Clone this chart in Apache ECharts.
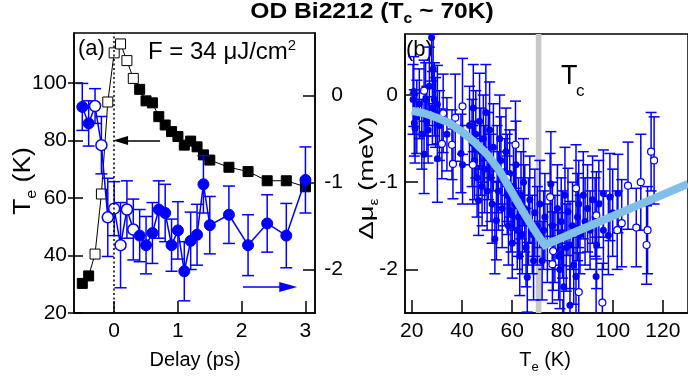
<!DOCTYPE html>
<html><head><meta charset="utf-8">
<script src="https://cdn.jsdelivr.net/npm/echarts@6/dist/echarts.min.js"></script>
<style>html,body{margin:0;padding:0;background:#fff}#c{width:688px;height:385px}</style>
</head><body><div id="c"></div>
<script>
const FONT = 'Liberation Sans, Arial, Helvetica, sans-serif';

// ---------- Panel (a) data ----------
const delays   = [-0.5,-0.4,-0.3,-0.2,-0.1,0,0.1,0.2,0.3,0.4,0.5,0.6,0.7,0.8,0.9,1.0,1.1,1.2,1.3,1.4,1.5,1.8,2.1,2.4,2.7,3.0];
const teValues = [30.3,32.9,40.5,61.4,93.4,110.5,113.6,107.8,101.6,97.8,93.8,93.1,88.3,85.4,83.1,81.4,78.4,79.8,77.8,75.0,73.2,70.7,69.2,66.0,66.0,63.9];
const muValues = [-0.13,-0.32,-0.12,-0.57,-1.40,-1.30,-1.72,-1.31,-1.54,-1.61,-1.72,-1.58,-1.31,-1.35,-1.72,-1.55,-2.02,-1.67,-1.60,-1.02,-1.49,-1.37,-1.72,-1.47,-1.61,-0.97];
const muErrors = [0.27,0.26,0.20,0.33,0.45,0.31,0.49,0.33,0.35,0.30,0.33,0.35,0.33,0.33,0.30,0.33,0.34,0.33,0.35,0.33,0.33,0.33,0.35,0.33,0.37,0.38];
const isOpen   = [0,0,1,1,1,1,1,1,1,0,0,0,0,0,0,0,0,0,0,0,0,0,0,0,0,0];

const delayTicks = [0,1,2,3];
const teTicksA   = [20,40,60,80,100];
const muTicksA   = [-2,-1,0];

// ---------- Panel (b) data ----------
const filledT = [20.5,20.8,21.0,21.3,22,23,24,24.9,25.5,26,26.5,27,27.9,28.2,28.5,29,29.5,30.2,30.2,31,
  34,39.6,40.2,
  43,44,44.5,45,45.5,46,46.6,47,47.5,48,48.5,49,49.5,50,50.5,51,51.5,52,52.5,53.1,53.7,54,54.5,55,55.5,56,57,
  57.5,58,58.5,59,59.5,60,60.5,61,61.5,62,62.5,63,63.5,64,64.5,65,65.5,66,66.5,67,68,68.5,69,70,
  71,71.9,72.5,73,74,75.4,76,77,78,78.5,79,79.5,80,80.5,81,81.5,82.2,83,83,84,84.5,85.4,86,86.5,87,88.3,89,
  90,91,92,93,93.4,93.6,94.5,96.3,96.3,98.3,98.9,100,102.1];
const filledMu = [-0.05,0.04,-0.32,-0.38,-0.25,-0.10,-0.45,-0.68,-0.05,-0.30,-0.40,0.10,0.66,-0.15,0.30,-0.05,-0.20,-0.11,-0.73,-0.35,
  -0.45,-0.67,-0.80,
  -0.35,-0.55,-0.15,-0.75,-0.45,-0.95,-1.21,-0.30,-0.65,-1.05,-0.50,-0.85,-0.20,-1.10,-0.70,-0.40,-0.95,-1.25,-0.60,-1.65,-1.44,-0.85,-1.10,-0.50,-0.75,-1.30,-1.00,
  -0.65,-1.15,-1.50,-0.90,-1.35,-1.70,-1.05,-1.25,-0.80,-1.55,-1.40,-1.85,-1.15,-1.60,-1.00,-1.30,-1.75,-2.09,-1.45,-1.20,-1.60,-1.90,-1.35,-1.50,
  -1.25,-1.90,-1.55,-1.40,-1.70,-1.02,-1.50,-1.65,-1.30,-1.85,-2.00,-1.45,-1.60,-2.20,-1.15,-1.75,-1.34,-2.41,-1.72,-1.50,-1.95,-2.08,-1.40,-1.25,-1.60,-1.15,-1.45,
  -1.30,-1.55,-1.20,-1.40,-2.08,-1.72,-1.25,-1.13,-1.55,-1.61,-1.17,-1.35,-1.13];
const filledErr = [0.40,0.40,0.38,0.40,0.42,0.40,0.40,0.45,0.42,0.40,0.38,0.45,0.50,0.42,0.40,0.42,0.40,0.45,0.50,0.40,
  0.42,0.45,0.45,
  0.45,0.50,0.50,0.45,0.50,0.45,0.40,0.55,0.50,0.45,0.50,0.50,0.55,0.45,0.50,0.55,0.50,0.45,0.50,0.40,0.45,0.50,0.45,0.50,0.50,0.45,0.50,
  0.50,0.45,0.45,0.50,0.45,0.40,0.50,0.45,0.50,0.45,0.45,0.45,0.50,0.45,0.50,0.50,0.45,0.40,0.50,0.50,0.45,0.45,0.50,0.45,
  0.50,0.45,0.45,0.50,0.45,0.60,0.50,0.50,0.50,0.50,0.45,0.50,0.50,0.45,0.55,0.50,0.50,0.45,0.50,0.50,0.45,0.45,0.50,0.50,0.45,0.50,0.50,
  0.50,0.45,0.50,0.45,0.45,0.50,0.50,0.50,0.45,0.45,0.50,0.50,0.45];
const openT   = [24.9,32.5,32.0,36.0,36.4,37.3,40.2,44.3,58.0,61.3,75.1,76.3,76.0,85.4,86.5,93.5,95.9,101.8,103.6,106.1,109.4,111.2,113.5,113.9,115.3,116.5];
const openMu  = [0.05,-0.21,-0.56,-0.57,-0.79,-0.26,-0.13,-0.80,-0.95,-0.57,-1.17,-1.79,-1.94,-1.07,-2.26,-1.38,-2.38,-1.55,-1.47,-1.04,-1.52,-1.00,-1.72,-1.55,-0.65,-0.75];
const openErr = [0.35,0.45,0.40,0.40,0.40,0.50,0.55,0.45,0.50,0.50,0.50,0.45,0.45,0.50,0.45,0.50,0.45,0.45,0.50,0.50,0.45,0.55,0.45,0.50,0.45,0.50];

const curveT  = [20,25,30,35,40,45,50,55,60,65,70,73,130];
const curveMu = [-0.18,-0.21,-0.26,-0.32,-0.42,-0.54,-0.68,-0.87,-1.12,-1.37,-1.60,-1.72,-1.02];
const tcValue = 70.5;

const teTicksB = [20,40,60,80,100,120];
const muTicksB = [-2,-1,0];

// ---------- helpers ----------
const BLUE = '#0000ff';
function errRender(color, cap, lw) {
  return function (params, api) {
    const x = api.value(0), y = api.value(1), e = api.value(2);
    const p1 = api.coord([x, y + e]), p2 = api.coord([x, y - e]);
    const st = { stroke: color, lineWidth: lw };
    return { type: 'group', children: [
      { type: 'line', shape: { x1: p1[0], y1: p1[1], x2: p2[0], y2: p2[1] }, style: st },
      { type: 'line', shape: { x1: p1[0] - cap, y1: p1[1], x2: p1[0] + cap, y2: p1[1] }, style: st },
      { type: 'line', shape: { x1: p2[0] - cap, y1: p2[1], x2: p2[0] + cap, y2: p2[1] }, style: st }
    ]};
  };
}
const zip3 = (a, b, c) => a.map((v, i) => [v, b[i], c[i]]);
const zip2 = (a, b) => a.map((v, i) => [v, b[i]]);

const axLine = { show: true, onZero: false, lineStyle: { color: '#000', width: 1.5 } };
const lbl = (vals, extra) => Object.assign({ customValues: vals, color: '#000', fontFamily: FONT, fontSize: 21 }, extra || {});
const tck = (vals, inside, len) => ({ show: true, customValues: vals, inside: inside, length: len, lineStyle: { color: '#000', width: 1.5 } });

const option = {
  animation: false,
  backgroundColor: '#fff',
  grid: [
    { left: 74, top: 33, width: 241, height: 280, show: true, borderColor: '#000', borderWidth: 1.5, backgroundColor: 'transparent' },
    { left: 405, top: 34, width: 320, height: 279, show: true, borderColor: '#000', borderWidth: 1.5, backgroundColor: 'transparent' }
  ],
  xAxis: [
    { type: 'value', gridIndex: 0, min: -0.63, max: 3.15, axisLine: axLine, splitLine: { show: false },
      axisTick: tck(delayTicks, true, 12), axisLabel: lbl(delayTicks, { margin: 8 }) },
    { type: 'value', gridIndex: 1, min: 17.3, max: 130, axisLine: axLine, splitLine: { show: false },
      axisTick: tck(teTicksB, true, 13), axisLabel: lbl(teTicksB, { margin: 8 }) }
  ],
  yAxis: [
    { type: 'value', gridIndex: 0, position: 'left', min: 20, max: 117.4, axisLine: axLine, splitLine: { show: false },
      axisTick: tck(teTicksA, false, 6), axisLabel: lbl(teTicksA, { margin: 7 }) },
    { type: 'value', gridIndex: 0, position: 'left', min: 20, max: 117.4, axisLine: { show: false, onZero: false }, splitLine: { show: false },
      axisTick: tck(teTicksA, true, 9), axisLabel: { show: false } },
    { type: 'value', gridIndex: 0, position: 'right', min: -2.5, max: 0.72, axisLine: axLine, splitLine: { show: false },
      axisTick: tck(muTicksA, true, 12), axisLabel: lbl(muTicksA, { margin: 28, align: 'right' }) },
    { type: 'value', gridIndex: 1, position: 'left', min: -2.5, max: 0.70, axisLine: axLine, splitLine: { show: false },
      axisTick: tck(muTicksB, true, 13), axisLabel: lbl(muTicksB, { margin: 7 }) }
  ],
  series: [
    // Panel (a) Te squares
    { type: 'line', xAxisIndex: 0, yAxisIndex: 0, z: 2,
      data: delays.map((d, i) => ({ value: [d, teValues[i]],
        itemStyle: isOpen[i] ? { color: '#fff', borderColor: '#000', borderWidth: 1 } : { color: '#000', borderColor: '#000', borderWidth: 1 } })),
      symbol: 'rect', symbolSize: 10, showAllSymbol: true,
      lineStyle: { color: '#000', width: 1 },
      markLine: { silent: true, animation: false, label: { show: false },
        data: [
          [{ coord: [0, 20], symbol: 'none', lineStyle: { type: [2, 2.5], width: 1.5, color: '#000' } }, { coord: [0, 117.4], symbol: 'none' }],
          [{ coord: [0.72, 80], symbol: 'none', lineStyle: { type: 'solid', width: 1.5, color: '#000' } }, { coord: [0.1, 80], symbol: 'triangle', symbolSize: [9, 15] }]
        ],
        lineStyle: { color: '#000', width: 1.5 } }
    },
    // error bars (a)
    { type: 'custom', xAxisIndex: 0, yAxisIndex: 2, z: 3, clip: true,
      renderItem: errRender(BLUE, 6, 1.5), data: zip3(delays, muValues, muErrors) },
    // blue circles (a)
    { type: 'line', xAxisIndex: 0, yAxisIndex: 2, z: 4,
      data: delays.map((d, i) => ({ value: [d, muValues[i]],
        itemStyle: isOpen[i] ? { color: '#fff', borderColor: BLUE, borderWidth: 1.5 } : { color: BLUE, borderColor: BLUE, borderWidth: 1 } })),
      symbol: 'circle', symbolSize: 11, showAllSymbol: true,
      lineStyle: { color: BLUE, width: 1.5 },
      markLine: { silent: true, animation: false, label: { show: false },
        data: [
          [{ coord: [2.02, -2.20], symbol: 'none' }, { coord: [2.73, -2.20], symbol: 'triangle', symbolSize: [10, 18] }]
        ],
        lineStyle: { color: BLUE, width: 1.5, type: 'solid' } }
    },
    // Panel (b) Tc bar
    { type: 'line', xAxisIndex: 1, yAxisIndex: 3, z: 1, data: [],
      markArea: { silent: true, itemStyle: { color: '#c8c8c8' }, data: [[{ xAxis: tcValue - 1.1 }, { xAxis: tcValue + 1.1 }]] } },
    { type: 'custom', xAxisIndex: 1, yAxisIndex: 3, z: 3, clip: true,
      renderItem: errRender(BLUE, 5.5, 1.5), data: zip3(filledT, filledMu, filledErr) },
    { type: 'custom', xAxisIndex: 1, yAxisIndex: 3, z: 3, clip: true,
      renderItem: errRender(BLUE, 5.5, 1.5), data: zip3(openT, openMu, openErr) },
    { type: 'scatter', xAxisIndex: 1, yAxisIndex: 3, z: 4, symbol: 'circle', symbolSize: 7,
      itemStyle: { color: BLUE, opacity: 1 }, data: zip2(filledT, filledMu) },
    { type: 'scatter', xAxisIndex: 1, yAxisIndex: 3, z: 5, symbol: 'circle', symbolSize: 7,
      itemStyle: { color: '#fff', borderColor: BLUE, borderWidth: 1.2, opacity: 1 }, data: zip2(openT, openMu) },
    { type: 'line', xAxisIndex: 1, yAxisIndex: 3, z: 6, symbol: 'none', smooth: false,
      lineStyle: { color: '#80bfe8', width: 8, cap: 'butt', join: 'miter' }, data: zip2(curveT, curveMu) }
  ],
  graphic: [
    { type: 'text', x: 372, y: 12, scaleX: 1.12, style: { text: '{b|OD Bi2212 (T}{bs|c}{b| ~ 70K)}', align: 'center', verticalAlign: 'middle',
        rich: { b: { fontFamily: FONT, fontWeight: 'bold', fontSize: 22, lineHeight: 28, fill: '#000' },
                bs: { fontFamily: FONT, fontWeight: 'bold', fontSize: 14, lineHeight: 14, verticalAlign: 'bottom', fill: '#000' } } } },
    { type: 'text', x: 78, y: 38, style: { text: '(a)', font: '22px ' + FONT, fill: '#000' } },
    { type: 'text', x: 148, y: 38, style: { text: '{n|F = 34 \u03bcJ/cm}{p|2}',
        rich: { n: { fontFamily: FONT, fontSize: 24, lineHeight: 28, fill: '#000' },
                p: { fontFamily: FONT, fontSize: 15, lineHeight: 15, verticalAlign: 'top', fill: '#000' } } } },
    { type: 'text', x: 406, y: 39, style: { text: '(b)', font: '22px ' + FONT, fill: '#000' } },
    { type: 'text', x: 561, y: 63, style: { text: 'T', font: '27px ' + FONT, fill: '#000' } },
    { type: 'text', x: 576, y: 83, style: { text: 'c', font: '17px ' + FONT, fill: '#000' } },
    { type: 'text', x: 195, y: 360, style: { text: 'Delay (ps)', font: '20px ' + FONT, fill: '#000', align: 'center', verticalAlign: 'middle' } },
    { type: 'text', x: 545, y: 360, style: { text: '{n|T}{s|e}{n| (K)}', align: 'center', verticalAlign: 'middle',
        rich: { n: { fontFamily: FONT, fontSize: 20, lineHeight: 28, fill: '#000' },
                s: { fontFamily: FONT, fontSize: 13, lineHeight: 13, verticalAlign: 'bottom', fill: '#000' } } } },
    { type: 'text', x: 24, y: 181, rotation: Math.PI / 2, scaleX: 1.15, style: { text: '{n|T}{s|e}{n| (K)}', align: 'center', verticalAlign: 'middle',
        rich: { n: { fontFamily: FONT, fontSize: 23, lineHeight: 30, fill: '#000' },
                s: { fontFamily: FONT, fontSize: 14, lineHeight: 14, verticalAlign: 'bottom', fill: '#000' } } } },
    { type: 'text', x: 367, y: 178, rotation: Math.PI / 2, scaleX: 1.3, style: { text: '{n|\u0394\u03bc}{s|\u03b5}{n| (meV)}', align: 'center', verticalAlign: 'middle',
        rich: { n: { fontFamily: FONT, fontSize: 21, lineHeight: 28, fill: '#000' },
                s: { fontFamily: FONT, fontSize: 12, lineHeight: 12, verticalAlign: 'bottom', fill: '#000' } } } }
  ]
};
const chart = echarts.init(document.getElementById('c'), null, { renderer: 'canvas' });
chart.setOption(option);
</script></body></html>
